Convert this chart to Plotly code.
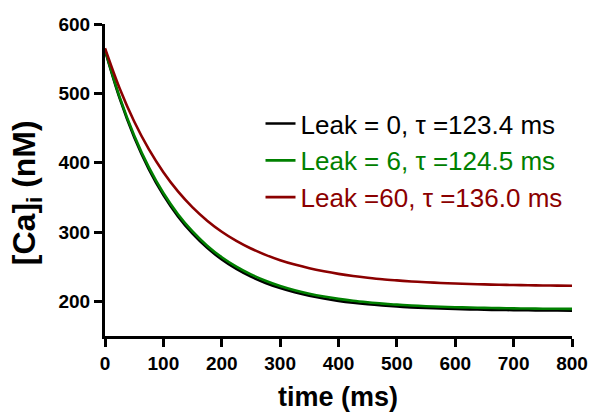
import plotly.graph_objects as go

time_ms = [0, 25, 50, 75, 100, 125, 150, 175, 200, 225, 250, 275, 300, 325, 350, 375, 400,
           425, 450, 475, 500, 525, 550, 575, 600, 625, 650, 675, 700, 725, 750, 775, 800]

ca_leak0 = [562.0, 493.0, 436.7, 390.8, 353.2, 322.5, 297.5, 277.1, 260.4, 246.7, 235.6, 226.5,
            219.1, 213.0, 208.0, 204.0, 200.7, 198.0, 195.8, 194.0, 192.5, 191.3, 190.4, 189.6,
            188.9, 188.4, 187.9, 187.6, 187.3, 187.1, 186.9, 186.7, 186.6]

ca_leak6 = [563.0, 494.9, 439.2, 393.5, 356.2, 325.7, 300.8, 280.3, 263.6, 250.0, 238.8, 229.7,
            222.1, 216.0, 211.0, 206.9, 203.6, 200.8, 198.6, 196.7, 195.2, 194.0, 193.0, 192.2,
            191.5, 191.0, 190.5, 190.2, 189.9, 189.6, 189.4, 189.2, 189.1]

ca_leak60 = [565.0, 507.3, 459.3, 419.4, 386.2, 358.5, 335.5, 316.4, 300.4, 287.2, 276.2, 267.0,
             259.3, 253.0, 247.7, 243.3, 239.6, 236.6, 234.1, 231.9, 230.2, 228.7, 227.5, 226.5,
             225.7, 225.0, 224.4, 223.9, 223.5, 223.2, 222.9, 222.7, 222.5]

series_names = ["Leak = 0, \u03c4 =123.4 ms", "Leak = 6, \u03c4 =124.5 ms", "Leak =60, \u03c4 =136.0 ms"]
series_colors = ["#000000", "#008000", "#8B0000"]
series_values = [ca_leak0, ca_leak6, ca_leak60]

x_ticks = [0, 100, 200, 300, 400, 500, 600, 700, 800]
y_ticks = [200, 300, 400, 500, 600]

x_title = "<b>time (ms)</b>"
y_title = "<b>[Ca]<sub>i</sub> (nM)</b>"

FONT = "Liberation Sans, Arial, sans-serif"

fig = go.Figure()
for name, color, vals in zip(series_names, series_colors, series_values):
    fig.add_trace(go.Scatter(
        x=time_ms, y=vals, mode="lines", line=dict(color=color, width=2.6, shape="spline"),
        name=f"<span style='color:{color}'>{name}</span>",
    ))

tickfont = dict(family=FONT, size=19, color="black")
fig.update_layout(
    width=591, height=413,
    margin=dict(l=105, r=19, t=24, b=77, autoexpand=False),
    paper_bgcolor="white", plot_bgcolor="white",
    font=dict(family=FONT, color="black"),
    showlegend=True,
    legend=dict(
        x=0.333, y=0.756, xanchor="left", yanchor="top",
        font=dict(family=FONT, size=26),
        bgcolor="rgba(0,0,0,0)", borderwidth=0,
    ),
    xaxis=dict(
        range=[0, 800], tickvals=x_ticks, ticktext=[f"<b>{v}</b>" for v in x_ticks],
        showgrid=False, zeroline=False, showline=True, linecolor="black", linewidth=3,
        ticks="outside", ticklen=8, tickwidth=3, tickcolor="black",
        tickfont=tickfont, automargin=False,
    ),
    yaxis=dict(
        range=[150, 600], tickvals=y_ticks, ticktext=[f"<b>{v}</b>" for v in y_ticks],
        showgrid=False, zeroline=False, showline=True, linecolor="black", linewidth=3,
        ticks="outside", ticklen=8, tickwidth=3, tickcolor="black",
        tickfont=tickfont, automargin=False,
    ),
    annotations=[
        dict(text=x_title, xref="paper", yref="paper", x=0.498, y=-0.195,
             xanchor="center", yanchor="middle", showarrow=False, borderpad=0,
             font=dict(family=FONT, size=27, color="black")),
        dict(text=y_title, xref="paper", yref="paper", x=-0.169, y=0.458,
             xanchor="center", yanchor="middle", showarrow=False, textangle=-90,
             font=dict(family=FONT, size=32, color="black")),
    ],
)

fig.write_html("out.html", config={"displayModeBar": False},
               post_script="document.body.style.margin='0';")
